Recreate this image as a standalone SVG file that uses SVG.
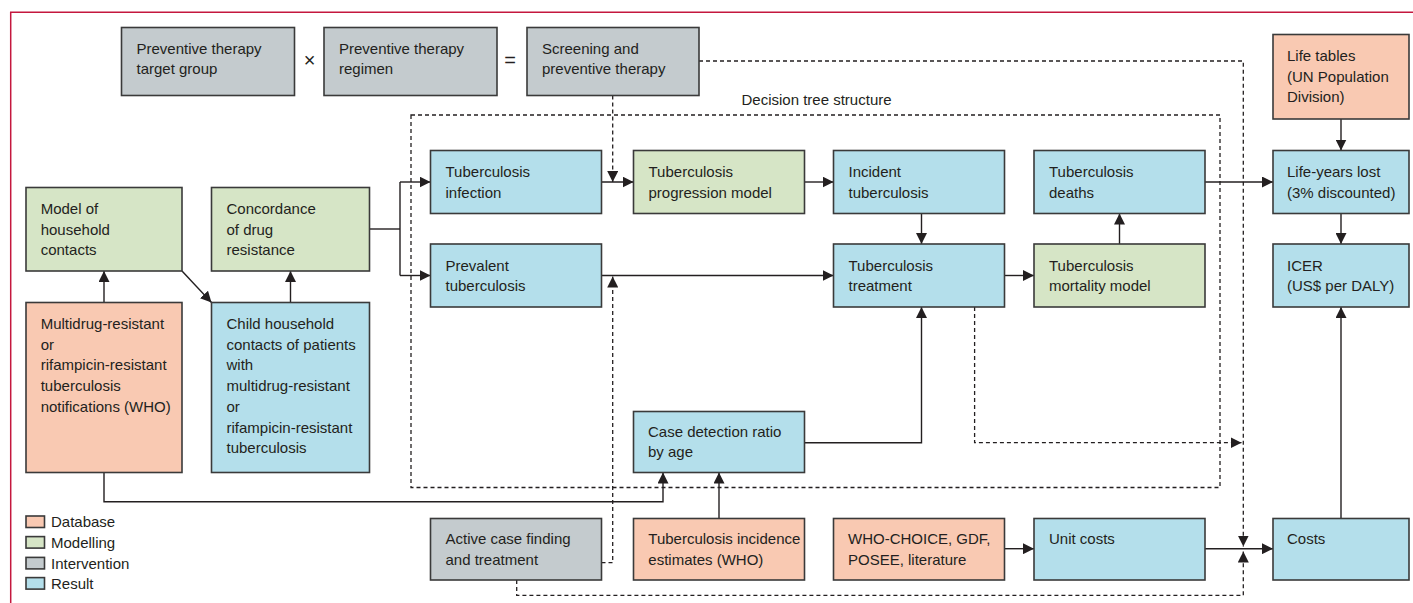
<svg xmlns="http://www.w3.org/2000/svg" width="1413" height="603" viewBox="0 0 1413 603">
<style>
text{font-family:"Liberation Sans",Arial,sans-serif;font-size:15px;fill:#231f20}
.box{stroke:#3a3a3a;stroke-width:1.6}
.db{fill:#f9c9b2}
.mo{fill:#d6e5c6}
.iv{fill:#c4cbce}
.rs{fill:#b4dfeb}
.ln{fill:none;stroke:#231f20;stroke-width:1.4}
.ds{fill:none;stroke:#231f20;stroke-width:1.3;stroke-dasharray:4 3}
.frame{fill:none;stroke:#c4173e;stroke-width:1.5}
.op{font-size:20px;text-anchor:middle}
</style>
<defs>
<marker id="ah" markerUnits="userSpaceOnUse" markerWidth="11" markerHeight="11" refX="10" refY="5" orient="auto" viewBox="0 0 10 10">
<path d="M0,0 L10,5 L0,10 z" fill="#231f20"/>
</marker>
</defs>
<rect width="1413" height="603" fill="#ffffff"/>
<path class="frame" d="M10.7,603 V12.3 H1413"/>

<g id="decision-tree">
<rect class="ds" x="411" y="115" width="809" height="372.5"/>
<text x="741.5" y="105">Decision tree structure</text>
</g>

<g id="connectors">
<path class="ln" d="M104,302.5 V271" marker-end="url(#ah)"/>
<path class="ln" d="M182,271 L211.5,302.5" marker-end="url(#ah)"/>
<path class="ln" d="M290.5,302.5 V271" marker-end="url(#ah)"/>
<path class="ln" d="M369.5,229 H400"/>
<path class="ln" d="M400,182 V275.5"/>
<path class="ln" d="M400,182 H430.5" marker-end="url(#ah)"/>
<path class="ln" d="M400,275.5 H430.5" marker-end="url(#ah)"/>
<path class="ln" d="M601.5,182 H633.5" marker-end="url(#ah)"/>
<path class="ln" d="M804.5,182 H833.5" marker-end="url(#ah)"/>
<path class="ln" d="M921.5,213.5 V244" marker-end="url(#ah)"/>
<path class="ln" d="M601.5,275.5 H833.5" marker-end="url(#ah)"/>
<path class="ln" d="M1004.5,275.5 H1034" marker-end="url(#ah)"/>
<path class="ln" d="M1119.5,244 V213.5" marker-end="url(#ah)"/>
<path class="ln" d="M1205,182 H1273" marker-end="url(#ah)"/>
<path class="ln" d="M1341,119 V150.5" marker-end="url(#ah)"/>
<path class="ln" d="M1341,213.5 V244" marker-end="url(#ah)"/>
<path class="ln" d="M1341,518.5 V307" marker-end="url(#ah)"/>
<path class="ln" d="M104,472.5 V501.7 H663 V472.5" marker-end="url(#ah)"/>
<path class="ln" d="M719,518.5 V472.5" marker-end="url(#ah)"/>
<path class="ln" d="M804.5,442.7 H921.5 V307" marker-end="url(#ah)"/>
<path class="ln" d="M1004.5,548.7 H1034" marker-end="url(#ah)"/>
<path class="ln" d="M1205,548.7 H1273" marker-end="url(#ah)"/>
<path class="ds" d="M612.7,95.5 V182" marker-end="url(#ah)"/>
<path class="ds" d="M601.5,562.7 H612.7 V276.5" marker-end="url(#ah)"/>
<path class="ds" d="M974.6,307 V442.7 H1241.5" marker-end="url(#ah)"/>
<path class="ds" d="M699,61 H1243.3 V546.5" marker-end="url(#ah)"/>
<path class="ds" d="M516.7,580 V595.3 H1243.3 V551.5" marker-end="url(#ah)"/>
</g>

<g id="operators">
<text class="op" x="309.5" y="67">×</text>
<text class="op" x="510" y="67">=</text>
</g>

<g id="pt-target-group">
<rect class="box iv" x="121.5" y="27.5" width="173" height="68"/>
<text x="136.5" y="53.5">Preventive therapy</text>
<text x="136.5" y="74.2">target group</text>
</g>
<g id="pt-regimen">
<rect class="box iv" x="324" y="27.5" width="173" height="68"/>
<text x="339" y="53.5">Preventive therapy</text>
<text x="339" y="74.2">regimen</text>
</g>
<g id="screening">
<rect class="box iv" x="527" y="27.5" width="172" height="68"/>
<text x="542" y="53.5">Screening and</text>
<text x="542" y="74.2">preventive therapy</text>
</g>
<g id="life-tables">
<rect class="box db" x="1273" y="34.5" width="136" height="84.5"/>
<text x="1287" y="61">Life tables</text>
<text x="1287" y="81.7">(UN Population</text>
<text x="1287" y="102.4">Division)</text>
</g>

<g id="model-household">
<rect class="box mo" x="26" y="187.5" width="156" height="83.5"/>
<text x="40.7" y="214">Model of</text>
<text x="40.7" y="234.7">household</text>
<text x="40.7" y="255.4">contacts</text>
</g>
<g id="concordance">
<rect class="box mo" x="211.5" y="187.5" width="158" height="83.5"/>
<text x="226.5" y="214">Concordance</text>
<text x="226.5" y="234.7">of drug</text>
<text x="226.5" y="255.4">resistance</text>
</g>
<g id="mdr-notifications">
<rect class="box db" x="26" y="302.5" width="156" height="170"/>
<text x="40.7" y="329">Multidrug-resistant</text>
<text x="40.7" y="349.7">or</text>
<text x="40.7" y="370.4">rifampicin-resistant</text>
<text x="40.7" y="391.1">tuberculosis</text>
<text x="40.7" y="411.8">notifications (WHO)</text>
</g>
<g id="child-contacts">
<rect class="box rs" x="211.5" y="302.5" width="158" height="170"/>
<text x="226.5" y="329">Child household</text>
<text x="226.5" y="349.7">contacts of patients</text>
<text x="226.5" y="370.4">with</text>
<text x="226.5" y="391.1">multidrug-resistant</text>
<text x="226.5" y="411.8">or</text>
<text x="226.5" y="432.5">rifampicin-resistant</text>
<text x="226.5" y="453.2">tuberculosis</text>
</g>

<g id="tb-infection">
<rect class="box rs" x="430.5" y="150.5" width="171" height="63"/>
<text x="445.5" y="177">Tuberculosis</text>
<text x="445.5" y="197.7">infection</text>
</g>
<g id="tb-progression">
<rect class="box mo" x="633.5" y="150.5" width="171" height="63"/>
<text x="648.5" y="177">Tuberculosis</text>
<text x="648.5" y="197.7">progression model</text>
</g>
<g id="incident-tb">
<rect class="box rs" x="833.5" y="150.5" width="171" height="63"/>
<text x="848.5" y="177">Incident</text>
<text x="848.5" y="197.7">tuberculosis</text>
</g>
<g id="tb-deaths">
<rect class="box rs" x="1034" y="150.5" width="171" height="63"/>
<text x="1049" y="177">Tuberculosis</text>
<text x="1049" y="197.7">deaths</text>
</g>
<g id="life-years-lost">
<rect class="box rs" x="1273" y="150.5" width="136" height="63"/>
<text x="1287" y="177">Life-years lost</text>
<text x="1287" y="197.7">(3% discounted)</text>
</g>

<g id="prevalent-tb">
<rect class="box rs" x="430.5" y="244" width="171" height="63"/>
<text x="445.5" y="270.5">Prevalent</text>
<text x="445.5" y="291.2">tuberculosis</text>
</g>
<g id="tb-treatment">
<rect class="box rs" x="833.5" y="244" width="171" height="63"/>
<text x="848.5" y="270.5">Tuberculosis</text>
<text x="848.5" y="291.2">treatment</text>
</g>
<g id="tb-mortality">
<rect class="box mo" x="1034" y="244" width="171" height="63"/>
<text x="1049" y="270.5">Tuberculosis</text>
<text x="1049" y="291.2">mortality model</text>
</g>
<g id="icer">
<rect class="box rs" x="1273" y="244" width="136" height="63"/>
<text x="1287" y="270.5">ICER</text>
<text x="1287" y="291.2">(US$ per DALY)</text>
</g>

<g id="case-detection">
<rect class="box rs" x="633.5" y="411.5" width="171" height="61"/>
<text x="648" y="436.7">Case detection ratio</text>
<text x="648" y="457.4">by age</text>
</g>

<g id="active-case-finding">
<rect class="box iv" x="430.5" y="518.5" width="171" height="61.5"/>
<text x="445.5" y="544">Active case finding</text>
<text x="445.5" y="564.7">and treatment</text>
</g>
<g id="tb-incidence">
<rect class="box db" x="633.5" y="518.5" width="171" height="61.5"/>
<text x="648.3" y="544">Tuberculosis incidence</text>
<text x="648.3" y="564.7">estimates (WHO)</text>
</g>
<g id="who-choice">
<rect class="box db" x="833.5" y="518.5" width="171" height="61.5"/>
<text x="848" y="544">WHO-CHOICE, GDF,</text>
<text x="848" y="564.7">POSEE, literature</text>
</g>
<g id="unit-costs">
<rect class="box rs" x="1034" y="518.5" width="171" height="61.5"/>
<text x="1049" y="544">Unit costs</text>
</g>
<g id="costs">
<rect class="box rs" x="1273" y="518.5" width="136" height="61.5"/>
<text x="1287" y="544">Costs</text>
</g>

<g id="legend">
<rect class="box db" x="26" y="516" width="18.5" height="11.5"/>
<text x="51" y="527">Database</text>
<rect class="box mo" x="26" y="536.6" width="18.5" height="11.5"/>
<text x="51" y="547.7">Modelling</text>
<rect class="box iv" x="26" y="557.4" width="18.5" height="11.5"/>
<text x="51" y="568.5">Intervention</text>
<rect class="box rs" x="26" y="577.6" width="18.5" height="11.5"/>
<text x="51" y="588.7">Result</text>
</g>
</svg>
